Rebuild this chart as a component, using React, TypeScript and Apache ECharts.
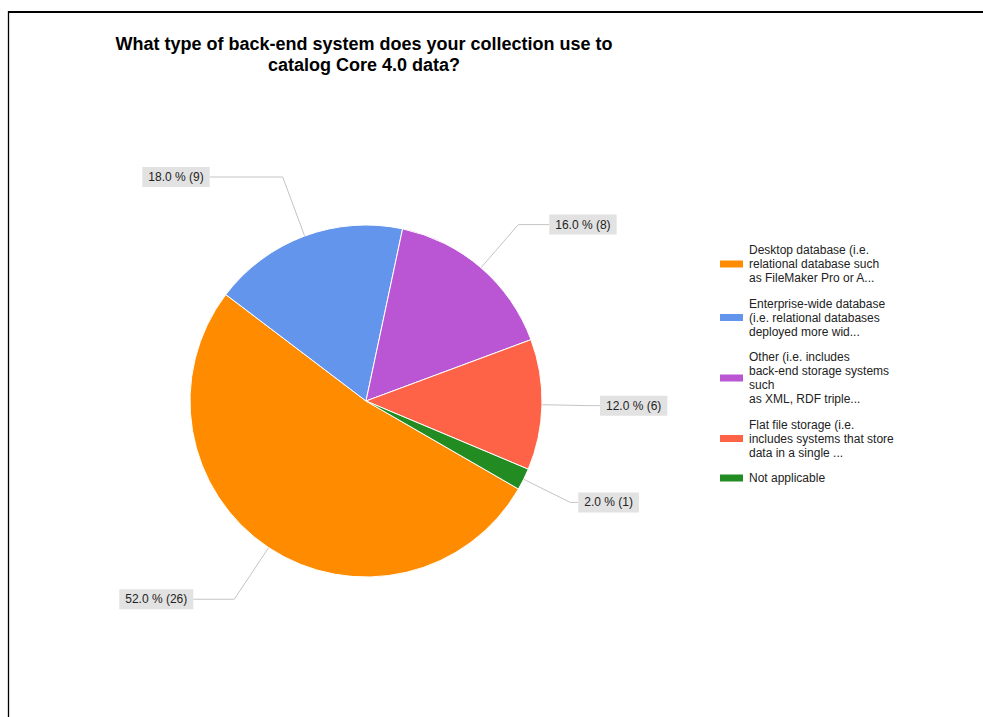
import React, { useEffect, useRef } from "react";
import * as echarts from "echarts";

const titleText = "What type of back-end system does your collection use to\ncatalog Core 4.0 data?";
const categories = [
  "Desktop database (i.e.\nrelational database such\nas FileMaker Pro or A...",
  "Enterprise-wide database\n(i.e. relational databases\ndeployed more wid...",
  "Other (i.e. includes\nback-end storage systems\nsuch\nas XML, RDF triple...",
  "Flat file storage (i.e.\nincludes systems that store\ndata in a single ...",
  "Not applicable",
];
const counts = [26, 9, 8, 6, 1];
const colors = ["#FF8C00", "#6495ED", "#BA55D3", "#FF6347", "#228B22"];

// label leader line layout [length, length2] per slice
const leaderLines = [
  [62, 41],
  [63, 73],
  [57, 31],
  [46, 12],
  [52, 8],
];

const FONT = "'Liberation Sans', Arial, sans-serif";

export default function App() {
  const ref = useRef<HTMLDivElement>(null);
  useEffect(() => {
    if (!ref.current) return;
    const chart = echarts.init(ref.current, undefined, { renderer: "svg" });
    const total = counts.reduce((a, b) => a + b, 0);
    chart.setOption({
      animation: false,
      backgroundColor: "#ffffff",
      title: {
        text: titleText,
        left: 364,
        top: 33,
        textAlign: "center",
        padding: 0,
        textStyle: {
          fontFamily: FONT,
          fontSize: 18,
          fontWeight: "bold",
          color: "#000",
          lineHeight: 21,
        },
      },
      legend: {
        orient: "vertical",
        left: 718,
        top: 243,
        padding: 0,
        itemWidth: 25,
        itemHeight: 9,
        itemGap: 11.5,
        icon: "rect",
        selectedMode: false,
        textStyle: {
          fontFamily: FONT,
          fontSize: 12,
          lineHeight: 14,
          color: "#222",
        },
        data: categories,
      },
      graphic: [
        {
          type: "line",
          shape: { x1: 8, y1: 12, x2: 983, y2: 12 },
          style: { stroke: "#000", lineWidth: 2 },
        },
        {
          type: "line",
          shape: { x1: 8.5, y1: 11, x2: 8.5, y2: 717 },
          style: { stroke: "#000", lineWidth: 1.3 },
        },
      ],
      series: [
        {
          type: "pie",
          center: [366, 401],
          radius: 176,
          startAngle: -30,
          clockwise: true,
          avoidLabelOverlap: false,
          itemStyle: { borderColor: "#fff", borderWidth: 1 },
          label: {
            show: true,
            position: "outside",
            alignTo: "none",
            distanceToLabelLine: 0,
            fontFamily: FONT,
            fontSize: 12,
            lineHeight: 14,
            color: "#222",
            backgroundColor: "#e2e2e2",
            padding: [3, 6],
            formatter: (p: any) =>
              `${((p.value / total) * 100).toFixed(1)} % (${p.value})`,
          },
          labelLine: {
            show: true,
            lineStyle: { color: "#c4c4c4", width: 1 },
          },
          data: categories.map((name, i) => ({
            name,
            value: counts[i],
            itemStyle: { color: colors[i] },
            labelLine: { length: leaderLines[i][0], length2: leaderLines[i][1] },
          })),
        },
      ],
    });
    return () => chart.dispose();
  }, []);
  return (
    <div
      ref={ref}
      style={{ position: "fixed", left: 0, top: 0, width: 983, height: 717 }}
    />
  );
}
